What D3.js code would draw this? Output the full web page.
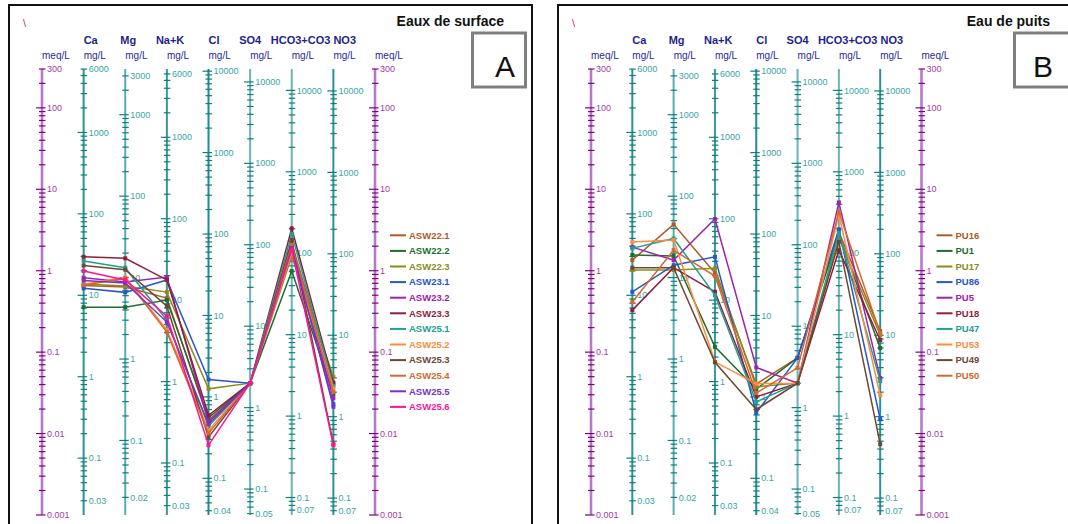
<!DOCTYPE html>
<html>
<head>
<meta charset="utf-8">
<script src="https://cdn.jsdelivr.net/npm/d3@7"></script>
<style>
  html, body { margin: 0; padding: 0; background: #fff; }
  svg { display: block; font-family: "Liberation Sans", Arial, sans-serif; }
</style>
</head>
<body>
<svg id="chart" width="1068" height="524"></svg>
<script>
// Schoeller diagram: ion columns (mg/L) on a shared meq/L log scale
const ions = ["Ca", "Mg", "Na+K", "Cl", "SO4", "HCO3+CO3", "NO3"];
const eqWeights = [20.04, 12.15, 22.99, 35.45, 48.03, 61.02, 62.0];
const meqDomain = [300, 0.001];

// Surface waters, meq/L in the order of `ions`
const surfaceNames = ["ASW22.1", "ASW22.2", "ASW22.3", "ASW23.1", "ASW23.2", "ASW23.3",
                      "ASW25.1", "ASW25.2", "ASW25.3", "ASW25.4", "ASW25.5", "ASW25.6"];
const surfaceMeq = [
  [0.656, 0.63, 0.461, 0.0146, 0.0416, 2.18, 0.0405],
  [0.357, 0.357, 0.436, 0.0156, 0.0416, 0.99, 0.0305],
  [0.685, 0.647, 0.546, 0.0354, 0.0416, 1.51, 0.0498],
  [0.607, 0.542, 0.77, 0.0462, 0.0416, 1.79, 0.0230],
  [0.82, 0.725, 0.836, 0.0139, 0.0416, 2.01, 0.0272],
  [1.48, 1.42, 0.77, 0.0168, 0.0416, 3.31, 0.0425],
  [1.32, 1.09, 0.247, 0.0123, 0.0416, 2.82, 0.0383],
  [0.68, 0.83, 0.187, 0.0110, 0.0416, 1.69, 0.0358],
  [1.16, 1.03, 0.367, 0.00904, 0.0416, 2.38, 0.00741],
  [0.665, 0.81, 0.176, 0.0101, 0.0416, 2.07, 0.0323],
  [0.76, 0.705, 0.234, 0.0131, 0.0416, 1.90, 0.0213],
  [0.99, 0.77, 0.277, 0.00721, 0.0416, 1.83, 0.00718]
];
const surfaceColors = ["#b05a28", "#1e6e30", "#8c8c1e", "#2855d0", "#a020b0", "#901e3c",
                       "#20a090", "#ff8c3c", "#6e4632", "#d2692d", "#7832c8", "#ff1493"];

// Well waters, meq/L in the order of `ions`
const wellNames = ["PU16", "PU1", "PU17", "PU86", "PU5", "PU18", "PU47", "PU53", "PU49", "PU50"];
const wellMeq = [
  [1.35, 3.71, 0.935, 0.0405, 0.0851, 2.98, 0.181],
  [1.56, 1.52, 0.116, 0.0352, 0.0851, 2.74, 0.112],
  [1.02, 1.02, 1.07, 0.0375, 0.0416, 2.52, 0.162],
  [0.551, 1.17, 1.48, 0.0180, 0.0851, 3.22, 0.0150],
  [1.95, 1.35, 4.31, 0.0649, 0.0416, 6.90, 0.048],
  [0.328, 1.09, 0.551, 0.0282, 0.0416, 1.79, 0.141],
  [1.88, 2.49, 0.502, 0.0245, 0.0416, 2.90, 0.0441],
  [2.26, 2.38, 0.076, 0.041, 0.0416, 4.82, 0.0296],
  [1.09, 1.09, 0.075, 0.0198, 0.0416, 2.26, 0.00741],
  [0.412, 1.79, 0.86, 0.0314, 0.0641, 5.30, 0.171]
];
const wellColors = ["#b05a28", "#1e6e30", "#8c8c1e", "#2855d0", "#a020b0", "#901e3c",
                    "#20a090", "#ff8c3c", "#6e4632", "#d2692d"];

const headerLabels = [
  { text: "Ca", col: "Ca", dx: 0 },
  { text: "Mg", col: "Mg", dx: -5 },
  { text: "Na+K", col: "Na+K", dx: -11 },
  { text: "Cl", col: "Cl", dx: 0 },
  { text: "SO4", col: "SO4", dx: -11 },
  { text: "HCO3+CO3 NO3", col: "HCO3+CO3", dx: -21 }
];

const svg = d3.select("#chart");
const y = d3.scaleLog().domain(meqDomain).range([69, 515]);

const ionLineColors = ["#2a9494", "#5aacac", "#349a9a", "#1f8d8d", "#6ab4b4", "#6ab4b4", "#2a9494"];

function logTicks(lo, hi) {
  const out = [];
  for (let k = Math.floor(Math.log10(lo)) - 1; k <= Math.ceil(Math.log10(hi)); k++) {
    for (let d = 1; d <= 9; d++) {
      const v = +(d * Math.pow(10, k)).toPrecision(10);
      if (v >= lo * (1 - 1e-9) && v <= hi * (1 + 1e-9)) out.push({ v, major: d === 1 });
    }
  }
  out.sort((a, b) => a.v - b.v);
  out[0].edge = true;
  out[out.length - 1].edge = true;
  return out;
}

function drawAxis(g, x, weight, lineColor, tickColor, labelColor, lineWidth) {
  const ax = g.append("g");
  ax.append("line")
    .attr("x1", x).attr("x2", x)
    .attr("y1", y.range()[0]).attr("y2", y.range()[1])
    .attr("stroke", lineColor).attr("stroke-width", lineWidth);
  const ticks = logTicks(meqDomain[1] * weight, meqDomain[0] * weight);
  ticks.forEach(t => {
    const ty = y(t.v / weight);
    ax.append("line")
      .attr("x1", x - (t.major ? 6 : 3)).attr("x2", x + 3.5)
      .attr("y1", ty).attr("y2", ty)
      .attr("stroke", tickColor).attr("stroke-width", 1.2);
    if (t.major || t.edge) {
      ax.append("text")
        .attr("x", x + 5).attr("y", ty)
        .attr("dy", "0.35em")
        .attr("font-size", 9)
        .attr("fill", labelColor)
        .text(String(+t.v.toPrecision(6)));
    }
  });
}

function drawPanel(opt) {
  const g = svg.append("g");
  // frame
  g.append("rect")
    .attr("x", opt.frame[0]).attr("y", 5)
    .attr("width", opt.frame[1] - opt.frame[0]).attr("height", 540)
    .attr("fill", "none").attr("stroke", "#111").attr("stroke-width", 2);
  g.append("text")
    .attr("x", opt.frame[0] + 14).attr("y", 27)
    .attr("font-size", 11).attr("fill", "#e0107f")
    .text("\\");

  const cols = ["meqL", ...ions, "meqR"];
  const x = d3.scalePoint().domain(cols).range(opt.xRange);

  // title and panel letter
  g.append("text")
    .attr("x", opt.titleRight).attr("y", 26)
    .attr("text-anchor", "end")
    .attr("font-size", 14).attr("font-weight", "bold").attr("fill", "#111")
    .text(opt.title);
  g.append("rect")
    .attr("x", opt.boxX + 1.5).attr("y", 33)
    .attr("width", opt.boxW).attr("height", 54)
    .attr("fill", "#fff").attr("stroke", "#7f7f7f").attr("stroke-width", 3);
  g.append("text")
    .attr("x", opt.boxX + opt.letterDx).attr("y", 77)
    .attr("text-anchor", "middle")
    .attr("font-size", 30).attr("fill", "#111")
    .text(opt.letter);

  // column headers and units
  headerLabels.forEach(h => {
    g.append("text")
      .attr("x", x(h.col) + h.dx).attr("y", 44)
      .attr("font-size", 11).attr("font-weight", "bold").attr("fill", "#1f1f8a")
      .text(h.text);
  });
  cols.forEach(c => {
    g.append("text")
      .attr("x", x(c)).attr("y", 59)
      .attr("font-size", 10).attr("fill", "#2a2a9a")
      .text(c.startsWith("meq") ? "meq/L" : "mg/L");
  });

  // axes
  drawAxis(g, x("meqL"), 1, "#b878c8", "#800080", "#a03ca8", 2.6);
  drawAxis(g, x("meqR"), 1, "#b878c8", "#800080", "#a03ca8", 2.6);
  ions.forEach((ion, i) => {
    drawAxis(g, x(ion), eqWeights[i], ionLineColors[i], "#0f7f7f", "#3aa5a5", 2);
  });

  // sample profiles
  const line = d3.line().x(d => x(d.ion)).y(d => y(d.v));
  opt.values.forEach((vals, s) => {
    const pts = vals.map((v, i) => ({ ion: ions[i], v }));
    g.append("path")
      .datum(pts)
      .attr("d", line)
      .attr("fill", "none")
      .attr("stroke", opt.colors[s])
      .attr("stroke-width", 1.5);
    g.selectAll(null).data(pts).enter().append("rect")
      .attr("x", d => x(d.ion) - 2).attr("y", d => y(d.v) - 2)
      .attr("width", 4).attr("height", 4)
      .attr("fill", opt.colors[s]);
  });

  // legend
  const lx = x("meqR") + 15;
  opt.names.forEach((n, s) => {
    const ly = 235.3 + s * 15.6;
    g.append("line")
      .attr("x1", lx).attr("x2", lx + 16)
      .attr("y1", ly).attr("y2", ly)
      .attr("stroke", opt.colors[s]).attr("stroke-width", 2);
    g.append("text")
      .attr("x", lx + 19).attr("y", ly)
      .attr("dy", "0.35em")
      .attr("font-size", 9.5).attr("font-weight", "bold")
      .attr("fill", opt.colors[s])
      .text(n);
  });
}

drawPanel({
  frame: [9, 532], xRange: [42, 375],
  title: "Eaux de surface", titleRight: 504, boxX: 471, boxW: 53, letterDx: 34, letter: "A",
  names: surfaceNames, values: surfaceMeq, colors: surfaceColors
});
drawPanel({
  frame: [558, 1080], xRange: [591, 921.5],
  title: "Eau de puits", titleRight: 1050, boxX: 1013, boxW: 70, letterDx: 30, letter: "B",
  names: wellNames, values: wellMeq, colors: wellColors
});
</script>
</body>
</html>
